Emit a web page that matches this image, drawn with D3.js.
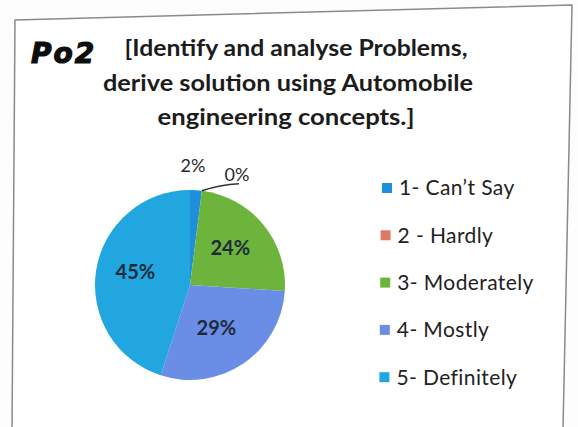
<!DOCTYPE html>
<html>
<head>
<meta charset="utf-8">
<script src="https://cdn.jsdelivr.net/npm/d3@7"></script>
<style>
  html, body { margin: 0; padding: 0; background: #fdfdfd; }
  #chart { width: 578px; height: 427px; }
</style>
</head>
<body>
<div id="chart"></div>
<script>
var categories = ['1- Can\u2019t Say', '2 - Hardly', '3- Moderately', '4- Mostly', '5- Definitely']
var values = [2, 0, 24, 29, 45]
var colors = ['#1f8fdc', '#e0786a', '#6db43c', '#6a8de6', '#22a6df']
var titleLines = ['[Identify and analyse Problems,', 'derive solution using Automobile', 'engineering concepts.]']

var width = 578
var height = 427
var container = d3.select('#chart')
var chart = container.append('svg').attr('width', width).attr('height', height)

// frame (scan is slightly skewed)
chart.append('path')
  .attr('d', 'M15,20 L572,5 L563,430 L12,430 Z')
  .attr('fill', '#ffffff')
  .attr('stroke', '#8a8a8a')
  .attr('stroke-width', 1.5)

// handwritten tag
chart.append('text')
  .attr('x', 31)
  .attr('y', 63)
  .attr('font-family', 'DejaVu Sans')
  .attr('font-weight', 'bold')
  .attr('font-style', 'italic')
  .attr('font-size', 28)
  .attr('letter-spacing', 2)
  .attr('fill', '#0d0d0d')
  .attr('stroke', '#0d0d0d')
  .attr('stroke-width', 1.2)
  .text('Po2')

// title
var titleWidths = [343, 370, 257]
chart.append('g')
  .selectAll('text')
  .data(titleLines)
  .enter()
  .append('text')
  .attr('x', function (d, i) { return [296, 288, 286][i] })
  .attr('y', function (d, i) { return 56 + i * 34.5 })
  .attr('text-anchor', 'middle')
  .attr('font-family', 'Lato')
  .attr('font-weight', 'bold')
  .attr('font-size', 22)
  .attr('fill', '#1c1c1c')
  .attr('textLength', function (d, i) { return titleWidths[i] })
  .attr('lengthAdjust', 'spacingAndGlyphs')
  .text(function (d) { return d })

// pie
var cx = 190, cy = 285, r = 95
var pie = d3.pie().sort(null).value(function (d) { return d })
var arcs = pie(values)
var arc = d3.arc().innerRadius(0).outerRadius(r)
var g = chart.append('g').attr('transform', 'translate(' + cx + ',' + cy + ')')

g.selectAll('path')
  .data(arcs)
  .enter()
  .append('path')
  .attr('d', arc)
  .attr('fill', function (d, i) { return colors[i] })

// data labels (inside for big slices, outside for the small ones)
var inner = d3.arc().innerRadius(r * 0.55).outerRadius(r * 0.55)
var labelPos = [[3, -119], [47, -110]]
g.selectAll('text.lbl')
  .data(arcs)
  .enter()
  .append('text')
  .attr('class', 'lbl')
  .attr('transform', function (d, i) {
    if (i < 2) return 'translate(' + labelPos[i] + ')'
    var c = inner.centroid(d)
    var off = [[0, 0], [0, 0], [0, -4], [-3, 0], [-3, -5]][i]
    return 'translate(' + (c[0] + off[0]) + ',' + (c[1] + off[1]) + ')'
  })
  .attr('text-anchor', 'middle')
  .attr('dy', '0.35em')
  .attr('font-family', 'Lato')
  .attr('font-weight', function (d, i) { return i < 2 ? 'normal' : 'bold' })
  .attr('font-size', function (d, i) { return i < 2 ? 18 : 20 })
  .attr('fill', function (d, i) { return i < 2 ? '#2a2a2a' : '#1d2b3a' })
  .text(function (d) { return d.data + '%' })

// leader line for the 0% slice
var edge = d3.arc().innerRadius(r).outerRadius(r).centroid(arcs[1])
g.append('path')
  .attr('d', 'M' + edge[0] + ',' + edge[1] + ' Q' + (edge[0] + 18) + ',' + (edge[1] - 6) + ' ' + (edge[0] + 37) + ',' + (edge[1] - 7))
  .attr('fill', 'none')
  .attr('stroke', '#333')
  .attr('stroke-width', 1.5)

// legend
var legend = chart.append('g').attr('transform', 'translate(378,188)')
var item = legend.selectAll('g')
  .data(categories)
  .enter()
  .append('g')
  .attr('transform', function (d, i) { return 'translate(' + (i === 0 ? 4 : i * -0.4 + 3) + ',' + (i * 47.3) + ')' })
item.append('rect')
  .attr('x', 0)
  .attr('y', -5)
  .attr('width', 10)
  .attr('height', 10)
  .attr('fill', function (d, i) { return colors[i] })
item.append('text')
  .attr('x', 17)
  .attr('dy', '0.35em')
  .attr('font-family', 'Lato')
  .attr('font-size', 21)
  .attr('letter-spacing', 0.4)
  .attr('fill', '#222')
  .text(function (d) { return d })
</script>
</body>
</html>
